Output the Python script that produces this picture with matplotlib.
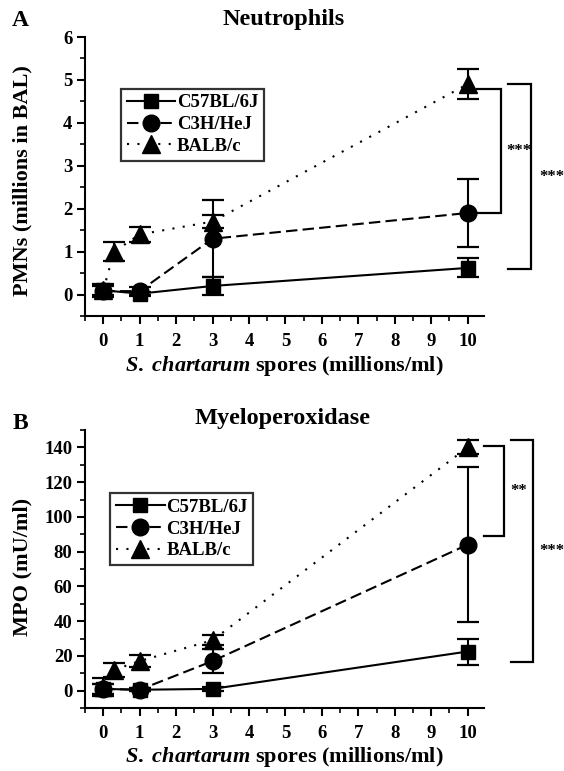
import matplotlib
matplotlib.use("Agg")
import matplotlib.pyplot as plt
from matplotlib.ticker import MultipleLocator

# doses (millions of spores / ml)
doses = [0, 1, 3, 10]
balb_doses = [0, 0.3, 1, 3, 10]
strains = ["C57BL/6J", "C3H/HeJ", "BALB/c"]

# panel A - neutrophils (millions in BAL)
c57_pmn = [0.1, 0.02, 0.2, 0.62]
c57_pmn_err = [0.12, 0.05, 0.2, 0.22]
c3h_pmn = [0.08, 0.08, 1.3, 1.9]
c3h_pmn_err = [0.12, 0.1, 0.9, 0.8]
balb_pmn = [0.1, 1.0, 1.4, 1.7, 4.9]
balb_pmn_err = [0.15, 0.22, 0.18, 0.16, 0.35]

# panel B - myeloperoxidase (mU/ml)
c57_mpo = [1, 0.5, 1, 22.5]
c57_mpo_err = [3, 1, 1, 7.5]
c3h_mpo = [1, 0.5, 17, 84]
c3h_mpo_err = [3, 1, 7, 44.5]
balb_mpo = [2, 12, 17, 29, 140]
balb_mpo_err = [5, 4, 3.5, 3, 4]

# significance brackets: (top, bottom, label)
brackets_pmn = [(4.8, 1.9, "***"), (4.9, 0.6, "***")]
brackets_mpo = [(141, 89, "**"), (144.5, 16.5, "***")]

plt.rcParams["font.family"] = ["Liberation Serif", "DejaVu Serif"]
plt.rcParams["font.weight"] = "bold"
plt.rcParams["mathtext.fontset"] = "custom"
plt.rcParams["mathtext.it"] = "Liberation Serif:italic:bold"
plt.rcParams["mathtext.rm"] = "Liberation Serif:bold"
plt.rcParams["mathtext.bf"] = "Liberation Serif:bold"

W, H = 564, 771
fig = plt.figure(figsize=(W / 100, H / 100), dpi=100)


def px_axes(l, t, r, b):
    return fig.add_axes([l / W, 1 - b / H, (r - l) / W, (b - t) / H])


styles = [
    dict(marker="s", ms=10.5, ls="-"),
    dict(marker="o", ms=12, ls=(0, (5.5, 2.5))),
    dict(marker="^", ms=13.5, ls=(0, (1, 4))),
]


def draw_panel(ax, series, ylim, major, ylabel_y, ylabel, legend_xy, brackets, arm_x):
    for (x, y, e), st, name in zip(series, styles, strains):
        ax.errorbar(x, y, yerr=e, fmt="none", ecolor="k", elinewidth=1.5,
                    capsize=8, capthick=1.6, clip_on=False, zorder=2)
        ax.plot(x, y, color="k", lw=1.5, marker=st["marker"], ms=st["ms"],
                ls=st["ls"], label=name, clip_on=False, zorder=3)

    ax.set_xlim(-0.5, 10.45)
    ax.set_ylim(*ylim)
    ax.xaxis.set_major_locator(MultipleLocator(1))
    ax.xaxis.set_minor_locator(MultipleLocator(0.5))
    ax.yaxis.set_major_locator(MultipleLocator(major))
    ax.yaxis.set_minor_locator(MultipleLocator(major / 2))
    ax.set_yticks([t for t in ax.get_yticks() if t >= 0 and t <= ylim[1]])
    for s in ["top", "right"]:
        ax.spines[s].set_visible(False)
    for s in ["left", "bottom"]:
        ax.spines[s].set_linewidth(1.5)
    ax.tick_params(which="major", length=6, width=1.5, labelsize=13.5)
    ax.tick_params(which="minor", length=3.5, width=1.2)
    ax.tick_params(axis="x", which="major", pad=6)
    ax.tick_params(axis="y", which="major", pad=3)
    for lab in ax.get_xticklabels() + ax.get_yticklabels():
        lab.set_fontweight("bold")

    leg = ax.legend(loc="upper left", bbox_to_anchor=legend_xy, fontsize=13.5,
                    frameon=True, fancybox=False, edgecolor="k",
                    handlelength=2.6, handletextpad=0.1, labelspacing=0.25,
                    borderpad=0.3, borderaxespad=0)
    leg.get_frame().set_linewidth(1.6)
    for t in leg.get_texts():
        t.set_fontweight("bold")

    # significance brackets outside the axes
    for (top, bot, lab), (x0, x1, tx) in zip(brackets, arm_x):
        ax.plot([x0, x1, x1, x0], [top, top, bot, bot], color="k", lw=1.6,
                clip_on=False, solid_joinstyle="miter")
        ax.text(tx, (top + bot) / 2, lab, fontsize=12, ha="center", va="center",
                fontweight="bold")

    fig.text(22 / W, 1 - ylabel_y / H, ylabel, rotation=90, fontsize=16,
             fontweight="bold", ha="center", va="center")


axA = px_axes(85, 37, 484, 316)
draw_panel(axA,
           [(doses, c57_pmn, c57_pmn_err), (doses, c3h_pmn, c3h_pmn_err),
            (balb_doses, balb_pmn, balb_pmn_err)],
           (-0.5, 6), 1, 181, "PMNs (millions in BAL)", (0.09, 0.815),
           brackets_pmn, [(10.25, 10.93, 11.4), (11.1, 11.75, 12.3)])

axB = px_axes(85, 430, 484, 708)
draw_panel(axB,
           [(doses, c57_mpo, c57_mpo_err), (doses, c3h_mpo, c3h_mpo_err),
            (balb_doses, balb_mpo, balb_mpo_err)],
           (-10, 150), 20, 567, "MPO (mU/ml)", (0.063, 0.773),
           brackets_mpo, [(10.45, 11.0, 11.4), (11.2, 11.8, 12.3)])

xlab = r"$\mathit{S.}$ $\mathit{chartarum}$ spores (millions/ml)"
fig.text(284 / W, 1 - 366 / H, xlab, fontsize=16, ha="center", va="center",
         fontweight="bold")
fig.text(284 / W, 1 - 757 / H, xlab, fontsize=16, ha="center", va="center",
         fontweight="bold")

fig.text(284 / W, 1 - 19 / H, "Neutrophils", fontsize=17.5, ha="center",
         va="center", fontweight="bold")
fig.text(283 / W, 1 - 419 / H, "Myeloperoxidase", fontsize=17.5, ha="center",
         va="center", fontweight="bold")
fig.text(20 / W, 1 - 21 / H, "A", fontsize=17, ha="center", va="center",
         fontweight="bold")
fig.text(20 / W, 1 - 423 / H, "B", fontsize=17, ha="center", va="center",
         fontweight="bold")

fig.savefig("out.png", dpi=100)
